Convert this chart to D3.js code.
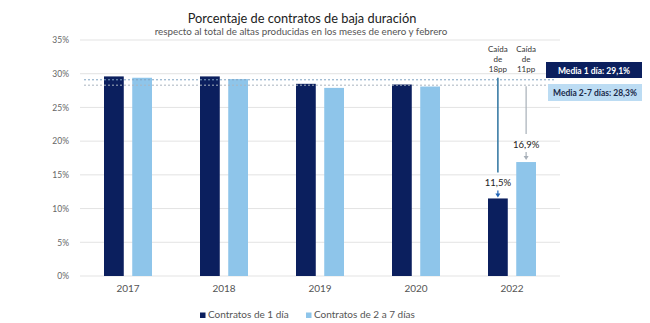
<!DOCTYPE html>
<html>
<head>
<meta charset="utf-8">
<script src="https://cdn.jsdelivr.net/npm/d3@7"></script>
<style>
  body { margin: 0; background: #fff; }
  svg { display: block; font-family: Lato, "Open Sans", sans-serif; }
</style>
</head>
<body>
<svg id="chart" width="650" height="323"></svg>
<script>
// data
var years = ["2017", "2018", "2019", "2020", "2022"];
var unDia = [29.6, 29.6, 28.5, 28.4, 11.5];
var dosSiete = [29.4, 29.2, 27.9, 28.1, 16.9];
var series = ["Contratos de 1 día", "Contratos de 2 a 7 días"];
var yTicks = [0, 5, 10, 15, 20, 25, 30, 35];
var mediaUnDia = 29.1;
var mediaDosSiete = 28.3;

var colors = ["#0b1f5e", "#8ec5ea"];

var svg = d3.select("#chart");

var x0 = d3.scaleBand().domain(years).range([80, 560]).paddingInner(0.5).paddingOuter(0.25);
var x1 = d3.scaleBand().domain([0, 1]).range([0, x0.bandwidth()]).paddingInner(0.3);
var y = d3.scaleLinear().domain([0, 35]).range([276, 40]);

// titles
svg.append("text").attr("x", 302).attr("y", 23).attr("text-anchor", "middle")
  .style("font-size", "12.8px").style("fill", "#222")
  .text("Porcentaje de contratos de baja duración");
svg.append("text").attr("x", 301).attr("y", 35).attr("text-anchor", "middle")
  .style("font-size", "9.8px").style("fill", "#555")
  .text("respecto al total de altas producidas en los meses de enero y febrero");

// grid + y labels
var yAxis = d3.axisLeft(y).tickValues(yTicks).tickSize(0)
  .tickFormat(d => d + "%");
var gy = svg.append("g").attr("transform", "translate(72,0)").call(yAxis);
gy.select(".domain").remove();
gy.selectAll("text").style("font-size", "8.5px").style("fill", "#666")
  .style("font-family", "Lato, sans-serif");

svg.append("g").selectAll("line").data(yTicks).enter().append("line")
  .attr("x1", 80).attr("x2", 560)
  .attr("y1", d => y(d)).attr("y2", d => y(d))
  .style("stroke", "#e3e3e3").style("stroke-width", 1);

// bars
var g = svg.append("g").selectAll("g").data(years).enter().append("g")
  .attr("transform", d => "translate(" + x0(d) + ",0)");
g.selectAll("rect")
  .data((d, i) => [unDia[i], dosSiete[i]])
  .enter().append("rect")
  .attr("x", (d, j) => x1(j))
  .attr("width", x1.bandwidth())
  .attr("y", d => y(d))
  .attr("height", d => y(0) - y(d))
  .style("fill", (d, j) => colors[j]);

// average lines
svg.append("line").attr("x1", 84).attr("x2", 556)
  .attr("y1", y(mediaUnDia)).attr("y2", y(mediaUnDia))
  .style("stroke", "#7fa3c2").style("stroke-width", 1).style("stroke-dasharray", "2,2");
svg.append("line").attr("x1", 84).attr("x2", 546)
  .attr("y1", y(mediaDosSiete)).attr("y2", y(mediaDosSiete))
  .style("stroke", "#a9b4bf").style("stroke-width", 1).style("stroke-dasharray", "2,2");

// average boxes
svg.append("rect").attr("x", 546).attr("y", 62).attr("width", 96).attr("height", 16)
  .style("fill", "#0b1f5e");
svg.append("text").attr("x", 594).attr("y", 73.5).attr("text-anchor", "middle")
  .style("font-size", "8.5px").style("font-weight", "bold").style("fill", "#fff")
  .text("Media 1 día: " + String(mediaUnDia).replace(".", ",") + "%");
svg.append("rect").attr("x", 548).attr("y", 84).attr("width", 94).attr("height", 17)
  .style("fill", "#bcdcf3");
svg.append("text").attr("x", 595).attr("y", 96).attr("text-anchor", "middle")
  .style("font-size", "8.5px").style("font-weight", "bold").style("fill", "#1a2a4a")
  .text("Media 2-7 días: " + String(mediaDosSiete).replace(".", ",") + "%");

// drop annotations for 2022
var last = years.length - 1;
var cx0 = x0(years[last]) + x1(0) + x1.bandwidth() / 2;
var cx1 = x0(years[last]) + x1(1) + x1.bandwidth() / 2;

svg.append("line").attr("x1", cx0).attr("x2", cx0)
  .attr("y1", y(mediaUnDia) - 2).attr("y2", y(unDia[last]) - 26)
  .style("stroke", "#3a7ca5").style("stroke-width", 1.6);
svg.append("line").attr("x1", cx1).attr("x2", cx1)
  .attr("y1", y(mediaDosSiete) + 1).attr("y2", y(dosSiete[last]) - 28)
  .style("stroke", "#a7afb8").style("stroke-width", 1.2);

function fmt(v) { return String(v).replace(".", ",") + "%"; }
svg.append("text").attr("x", cx0).attr("y", y(unDia[last]) - 12).attr("text-anchor", "middle")
  .style("font-size", "9.5px").style("fill", "#222").text(fmt(unDia[last]));
svg.append("text").attr("x", cx1).attr("y", y(dosSiete[last]) - 14).attr("text-anchor", "middle")
  .style("font-size", "9.5px").style("fill", "#222").text(fmt(dosSiete[last]));

function arrow(cx, yTop, yBot, col) {
  svg.append("line").attr("x1", cx).attr("x2", cx).attr("y1", yTop).attr("y2", yBot - 3)
    .style("stroke", col).style("stroke-width", 1.2);
  svg.append("path")
    .attr("d", "M" + (cx - 2.5) + "," + (yBot - 4) + "L" + (cx + 2.5) + "," + (yBot - 4) + "L" + cx + "," + yBot + "Z")
    .style("fill", col);
}
arrow(cx0, y(unDia[last]) - 8, y(unDia[last]) - 1, "#1f63b5");
arrow(cx1, y(dosSiete[last]) - 10, y(dosSiete[last]) - 2, "#a7afb8");

var caidas = [["Caída", "de", "18pp"], ["Caída", "de", "11pp"]];
[cx0, cx1].forEach((cx, i) => {
  svg.append("text").attr("text-anchor", "middle")
    .style("font-size", "8px").style("fill", "#333")
    .selectAll("tspan").data(caidas[i]).enter().append("tspan")
    .attr("x", cx).attr("y", (d, k) => 52 + k * 10).text(d => d);
});

// x labels
var xAxis = d3.axisBottom(x0).tickSize(0).tickPadding(9);
var gx = svg.append("g").attr("transform", "translate(0," + y(0) + ")").call(xAxis);
gx.select(".domain").remove();
gx.selectAll("text").style("font-size", "10px").style("fill", "#555")
  .style("font-family", "Lato, sans-serif");

// legend
var legX = [200, 306];
var leg = svg.append("g").selectAll("g").data(series).enter().append("g")
  .attr("transform", (d, i) => "translate(" + legX[i] + ",318)");
leg.append("rect").attr("x", 0).attr("y", -5.5).attr("width", 5.5).attr("height", 5.5)
  .style("fill", (d, i) => colors[i]);
leg.append("text").attr("x", 8).attr("y", 0)
  .style("font-size", "10px").style("fill", "#555").text(d => d);
</script>
</body>
</html>
